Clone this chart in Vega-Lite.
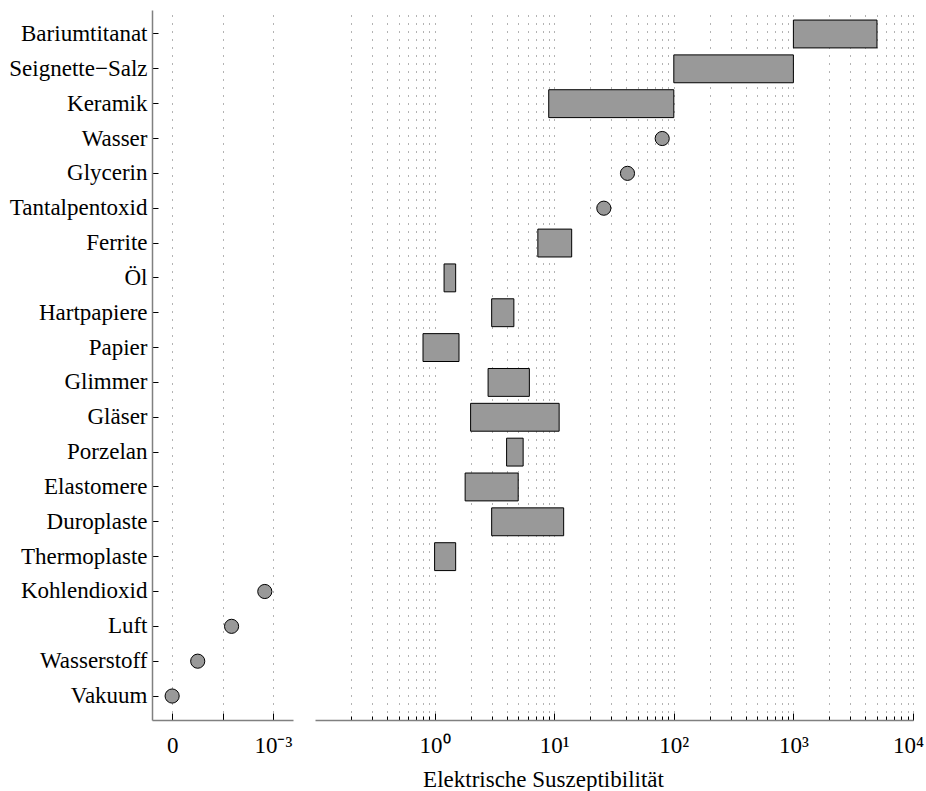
{
  "$schema": "https://vega.github.io/schema/vega-lite/v6.json",
  "padding": {"left": 8, "top": 10, "right": 0, "bottom": 0},
  "config": {
    "font": "Liberation Serif",
    "view": {"stroke": null},
    "axis": {
      "labelFont": "Liberation Serif",
      "labelFontSize": 23,
      "labelColor": "#000",
      "titleFont": "Liberation Serif",
      "titleFontSize": 23,
      "titleFontWeight": "normal",
      "titleColor": "#000",
      "domainColor": "#808080",
      "domainWidth": 1.5,
      "tickColor": "#000",
      "tickWidth": 1,
      "gridColor": "#000",
      "gridDash": [1, 7],
      "gridOpacity": 0.6,
      "gridWidth": 1,
      "labelOverlap": false,
      "labelFlush": false
    }
  },
  "datasets": {
    "gases": [
      {"name": "Vakuum", "chi": 0},
      {"name": "Wasserstoff", "chi": 0.000254},
      {"name": "Luft", "chi": 0.00059},
      {"name": "Kohlendioxid", "chi": 0.00092}
    ],
    "liquids": [
      {"name": "Wasser", "chi": 80},
      {"name": "Glycerin", "chi": 41},
      {"name": "Tantalpentoxid", "chi": 26}
    ],
    "ranges": [
      {"name": "Bariumtitanat", "lo": 1000, "hi": 5000},
      {"name": "Seignette−Salz", "lo": 100, "hi": 1000},
      {"name": "Keramik", "lo": 9, "hi": 100},
      {"name": "Ferrite", "lo": 7.3, "hi": 14},
      {"name": "Öl", "lo": 1.2, "hi": 1.5},
      {"name": "Hartpapiere", "lo": 3, "hi": 4.6},
      {"name": "Papier", "lo": 0.8, "hi": 1.6},
      {"name": "Glimmer", "lo": 2.8, "hi": 6.2},
      {"name": "Gläser", "lo": 2, "hi": 11},
      {"name": "Porzelan", "lo": 4, "hi": 5.5},
      {"name": "Elastomere", "lo": 1.8, "hi": 5},
      {"name": "Duroplaste", "lo": 3, "hi": 12},
      {"name": "Thermoplaste", "lo": 1, "hi": 1.5}
    ]
  },
  "spacing": 22,
  "hconcat": [
    {
      "width": 141,
      "height": 710,
      "data": {"name": "gases"},
      "mark": {"type": "point", "shape": "circle", "filled": true, "size": 200, "fill": "#999999", "stroke": "#000", "strokeWidth": 1, "opacity": 1},
      "encoding": {
        "x": {
          "field": "chi", "type": "quantitative",
          "scale": {"domain": [-0.0002, 0.0012], "nice": false, "zero": false},
          "axis": {
            "title": null,
            "values": [0, 0.0005, 0.001],
            "labelExpr": "datum.value == 0 ? '0' : (datum.value > 0.0009 ? '10⁻³' : '')",
            "grid": true,
            "tickSize": -7,
            "labelPadding": 39,
            "labelBaseline": "alphabetic"
          }
        },
        "y": {
          "field": "name", "type": "nominal", "bandPosition": 0.5,
          "scale": {
            "type": "band",
            "domain": ["Bariumtitanat", "Seignette−Salz", "Keramik", "Wasser", "Glycerin", "Tantalpentoxid", "Ferrite", "Öl", "Hartpapiere", "Papier", "Glimmer", "Gläser", "Porzelan", "Elastomere", "Duroplaste", "Thermoplaste", "Kohlendioxid", "Luft", "Wasserstoff", "Vakuum"],
            "paddingInner": 0.2, "paddingOuter": 0.288
          },
          "axis": {"title": null, "grid": false, "tickSize": -6, "labelPadding": 11}
        }
      }
    },
    {
      "width": 598,
      "height": 710,
      "layer": [
        {
          "data": {"name": "ranges"},
          "mark": {"type": "bar", "fill": "#999999", "stroke": "#000", "strokeWidth": 1},
          "encoding": {
            "x": {
              "field": "lo", "type": "quantitative",
              "scale": {"type": "log", "domain": [0.1, 10000], "nice": false},
              "axis": {
                "title": "Elektrische Suszeptibilität",
                "titleX": 228, "titleY": 66, "titleAlign": "center", "titleBaseline": "alphabetic", "titleAnchor": null,
                "values": [0.2, 0.3, 0.4, 0.5, 0.6, 0.7, 0.8, 0.9, 1, 2, 3, 4, 5, 6, 7, 8, 9, 10, 20, 30, 40, 50, 60, 70, 80, 90, 100, 200, 300, 400, 500, 600, 700, 800, 900, 1000, 2000, 3000, 4000, 5000, 6000, 7000, 8000, 9000, 10000],
                "labelExpr": "datum.value == 1 ? '10⁰' : datum.value == 10 ? '10¹' : datum.value == 100 ? '10²' : datum.value == 1000 ? '10³' : datum.value == 10000 ? '10⁴' : ''",
                "grid": true,
                "tickSize": {"condition": {"test": "indexof([1, 10, 100, 1000, 10000], datum.value) >= 0", "value": -7}, "value": -4},
                "labelOffset": {"condition": {"test": "datum.value == 10000", "value": -5}, "value": 0},
                "labelPadding": 39,
                "labelBaseline": "alphabetic"
              }
            },
            "x2": {"field": "hi"},
            "y": {
              "field": "name", "type": "nominal",
              "scale": {
                "type": "band",
                "domain": ["Bariumtitanat", "Seignette−Salz", "Keramik", "Wasser", "Glycerin", "Tantalpentoxid", "Ferrite", "Öl", "Hartpapiere", "Papier", "Glimmer", "Gläser", "Porzelan", "Elastomere", "Duroplaste", "Thermoplaste", "Kohlendioxid", "Luft", "Wasserstoff", "Vakuum"],
                "paddingInner": 0.2, "paddingOuter": 0.288
              },
              "axis": null
            }
          }
        },
        {
          "data": {"name": "liquids"},
          "mark": {"type": "point", "shape": "circle", "filled": true, "size": 200, "fill": "#999999", "stroke": "#000", "strokeWidth": 1, "opacity": 1},
          "encoding": {
            "x": {"field": "chi", "type": "quantitative"},
            "y": {"field": "name", "type": "nominal", "bandPosition": 0.5, "axis": null}
          }
        }
      ]
    }
  ]
}
